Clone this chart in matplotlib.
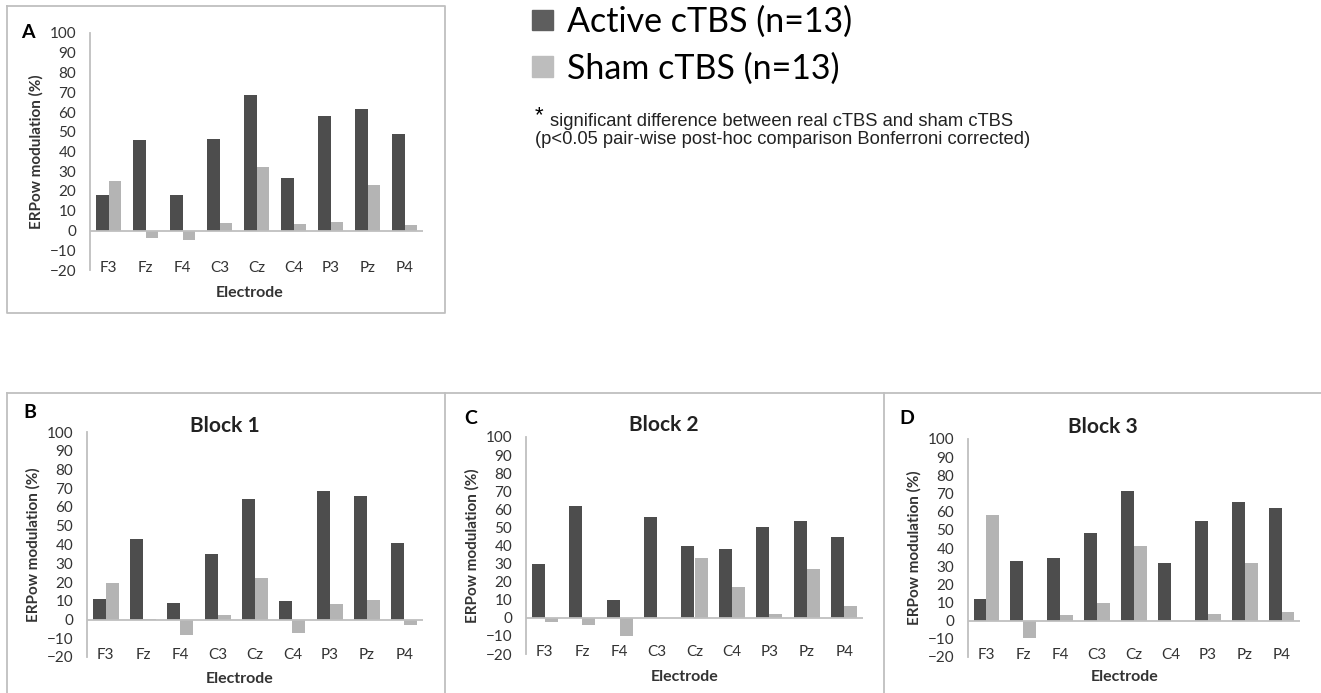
import matplotlib
matplotlib.use("Agg")
from matplotlib import pyplot as plt
from matplotlib.patches import Patch
from matplotlib.lines import Line2D
import numpy as np

plt.rcParams['font.family'] = ['Lato', 'DejaVu Sans']

electrodes = ['F3', 'Fz', 'F4', 'C3', 'Cz', 'C4', 'P3', 'Pz', 'P4']
yticks = [-20, -10, 0, 10, 20, 30, 40, 50, 60, 70, 80, 90, 100]

# A: whole session
active_a = [18, 46, 18, 46.5, 68.5, 26.5, 58, 61.5, 49]
sham_a = [25, -4, -5, 4, 32, 3.5, 4.5, 23, 3]
# B: block 1
active_b1 = [11, 43, 9, 35, 64.5, 9.8, 68.8, 65.8, 41]
sham_b1 = [19.5, 0.5, -8, 2.3, 22.2, -7, 8.5, 10.5, -3]
# C: block 2
active_b2 = [29.5, 61.8, 9.8, 55.5, 40, 38, 50.3, 53.6, 44.8]
sham_b2 = [-2.5, -4, -10, 0, 33.2, 17.3, 2, 27, 6.8]
# D: block 3
active_b3 = [12, 33, 34.5, 48.3, 71.3, 31.8, 54.8, 65.3, 62]
sham_b3 = [58.3, -9.7, 3.2, 9.6, 41, 0, 3.5, 31.6, 4.8]

dark = '#4d4d4d'
light = '#b4b4b4'
grid_col = '#bfbfbf'
txt = '#333333'

W, H = 1321, 693
fig = plt.figure(figsize=(W / 100, H / 100), dpi=100)


def px_axes(x0, x1, ytop, ybot):
    return fig.add_axes([x0 / W, 1 - ybot / H, (x1 - x0) / W, (ybot - ytop) / H])


def panel(ax, act, sham, letter, lpos, title=None, tpos=None, xlab=(0.48, -0.1)):
    x = np.arange(len(electrodes))
    bw = 0.35
    ax.bar(x - bw / 2, act, bw, color=dark, zorder=2)
    ax.bar(x + bw / 2, sham, bw, color=light, zorder=2)
    ax.set_xlim(-0.5, len(electrodes) - 0.5)
    ax.set_ylim(-20, 100)
    ax.set_yticks(yticks)
    ax.set_xticks(x)
    ax.set_xticklabels(electrodes)
    ax.axhline(0, color=grid_col, lw=1.3, zorder=3)
    for s in ['top', 'right', 'bottom']:
        ax.spines[s].set_visible(False)
    ax.spines['left'].set_color(grid_col)
    ax.spines['left'].set_linewidth(1.3)
    ax.tick_params(axis='y', length=0, pad=10, labelsize=11, labelcolor=txt)
    ax.tick_params(axis='x', length=0, pad=-6.5, labelsize=11, labelcolor=txt)
    ax.set_ylabel('ERPow modulation (%)', fontsize=11, fontweight='bold', color=txt)
    ax.yaxis.set_label_coords(-54 / (ax.get_position().width * W), 0.5)
    ax.yaxis.label.set_va('center')
    ax.set_xlabel('Electrode', fontsize=11.5, fontweight='bold', color=txt)
    ax.xaxis.set_label_coords(*xlab)
    ax.xaxis.label.set_va('center')
    ax.patch.set_alpha(0)
    fig.text(lpos[0] / W, 1 - lpos[1] / H, letter, fontsize=14, fontweight='bold',
             ha='center', va='center')
    if title:
        ax.text(tpos[0], tpos[1], title, transform=ax.transAxes, fontsize=15,
                fontweight='bold', ha='center', va='center', color='#222222')


axA = px_axes(90, 423, 33, 270)
panel(axA, active_a, sham_a, 'A', (28, 33), xlab=(0.48, -0.097))

axB = px_axes(87, 423, 432, 657)
panel(axB, active_b1, sham_b1, 'B', (30, 413), 'Block 1', (0.41, 1.027), xlab=(0.455, -0.096))

axC = px_axes(526, 863, 437, 654)
panel(axC, active_b2, sham_b2, 'C', (471, 418), 'Block 2', (0.41, 1.054), xlab=(0.472, -0.105))

axD = px_axes(968, 1300, 439, 657)
panel(axD, active_b3, sham_b3, 'D', (907, 419), 'Block 3', (0.407, 1.055), xlab=(0.473, -0.09))

# panel frames
frame_kw = dict(color=grid_col, lw=1.3, transform=fig.transFigure)


def fline(xs, ys):
    fig.add_artist(Line2D([v / W for v in xs], [1 - v / H for v in ys], **frame_kw))


fline([7, 445, 445, 7, 7], [6, 6, 313, 313, 6])
fline([7, W], [393, 393])
for xv in [7, 445, 884]:
    fline([xv, xv], [393, H])

# legend
handles = [Patch(color='#5e5e5e'), Patch(color='#bdbdbd')]
fig.legend(handles, ['Active cTBS (n=13)', 'Sham cTBS (n=13)'], loc='upper left',
           bbox_to_anchor=(525 / W, 1 + 1 / H), frameon=False, fontsize=24.5,
           handlelength=0.62, handleheight=0.55, handletextpad=0.4, labelspacing=0.42,
           borderaxespad=0, borderpad=0.2)

fig.text(535 / W, 1 - 116 / H, '*', fontsize=16, fontfamily='Liberation Sans', ha='left', va='center')
fig.text(550 / W, 1 - 121 / H, 'significant difference between real cTBS and sham cTBS',
         fontsize=13.2, fontfamily='Liberation Sans', ha='left', va='center', color='#222222')
fig.text(535 / W, 1 - 139 / H, '(p<0.05 pair-wise post-hoc comparison Bonferroni corrected)',
         fontsize=13.2, fontfamily='Liberation Sans', ha='left', va='center', color='#222222')

fig.savefig('out.png', dpi=100)
